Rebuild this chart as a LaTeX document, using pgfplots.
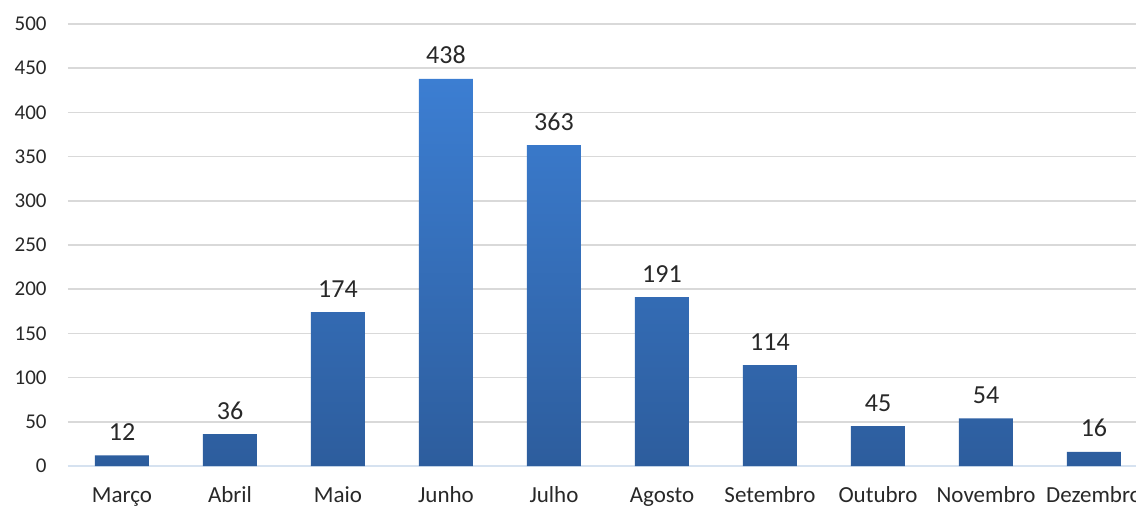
\documentclass[border=0pt]{standalone}
\usepackage{fontspec}
\setmainfont{Carlito}
\usepackage{pgfplots}
\pgfplotsset{compat=1.18}
\definecolor{bartop}{RGB}{60,126,210}
\definecolor{barbot}{RGB}{45,93,157}
\definecolor{gridc}{RGB}{217,217,217}
\definecolor{baseline}{RGB}{214,226,240}
\definecolor{txt}{RGB}{40,40,40}
\begin{document}
\begin{tikzpicture}
\begin{axis}[
  at={(34pt,-233pt)}, anchor=south west,
  scale only axis, width=540pt, height=221pt,
  ybar, bar width=27pt,
  xmin=-0.5, xmax=9.5, ymin=0, ymax=500,
  ytick={0,50,...,500},
  xtick=data,
  xticklabels={Março,Abril,Maio,Junho,Julho,Agosto,Setembro,Outubro,Novembro,Dezembro},
  axis x line*=bottom, axis y line*=left,
  x axis line style={draw=baseline, line width=0.8pt},
  y axis line style={draw=none},
  major tick style={draw=none},
  ymajorgrids, grid style={gridc, line width=0.8pt},
  /pgf/number format/assume math mode=true,
  yticklabel style={font=\fontsize{10.5pt}{12pt}\selectfont, text=txt, inner sep=0pt, anchor=east, xshift=-10.5pt},
  xticklabel style={font=\fontsize{11.5pt}{13pt}\selectfont, text=txt, inner sep=0pt, anchor=base, yshift=-14pt},
  nodes near coords,
  every node near coord/.append style={font=\fontsize{13pt}{15pt}\selectfont, text=txt, inner sep=0pt, anchor=base, yshift=7.5pt},
]
\addplot[draw=none, top color=bartop, bottom color=barbot] coordinates {
 (0,12) (1,36) (2,174) (3,438) (4,363) (5,191) (6,114) (7,45) (8,54) (9,16)};
\end{axis}
\pgfresetboundingbox
\path[use as bounding box] (0,0) rectangle (568pt,-254pt);
\end{tikzpicture}
\end{document}
